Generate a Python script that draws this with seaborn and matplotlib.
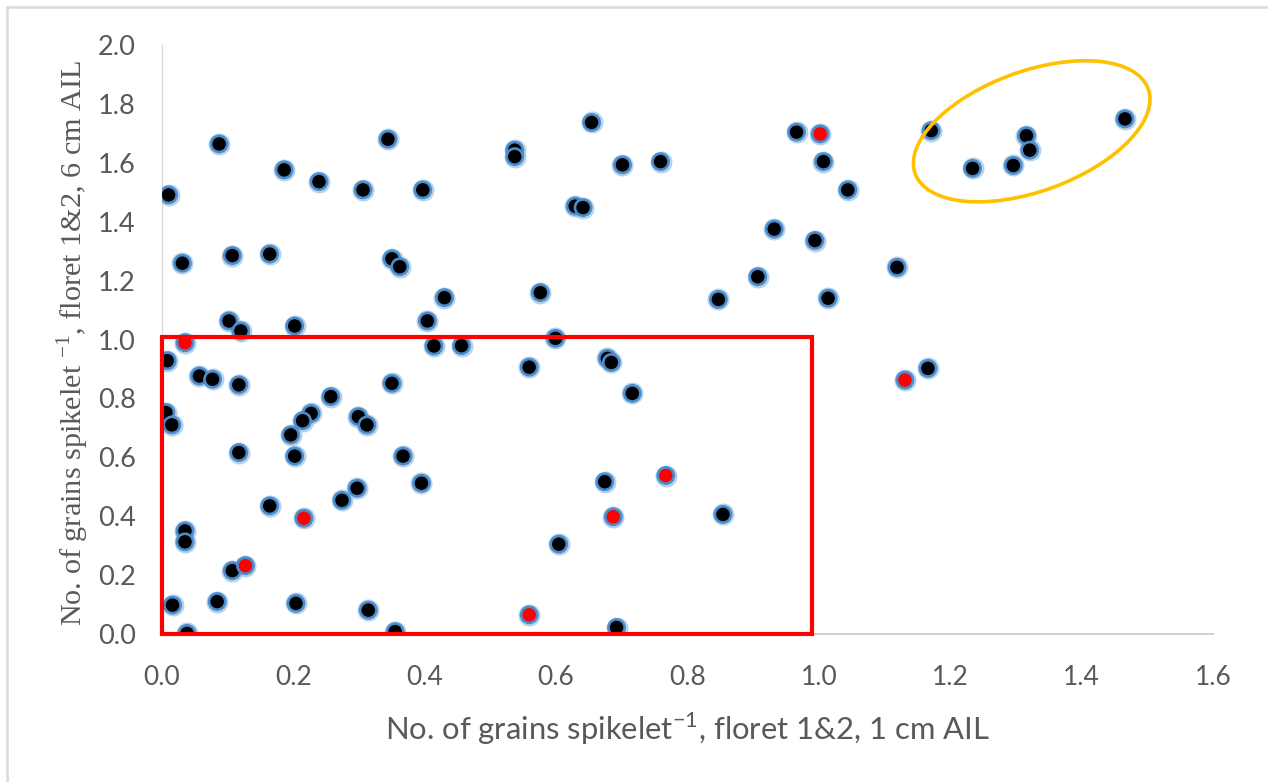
import numpy as np
import pandas as pd
import seaborn as sns
import matplotlib
matplotlib.use("Agg")
import matplotlib.pyplot as plt
from matplotlib.patches import Rectangle, Ellipse
from matplotlib.lines import Line2D
import matplotlib.transforms as mtransforms

# Grains per spikelet (florets 1&2) at 1 cm AIL (x) and 6 cm AIL (y)
x_black = [0.010, 0.087, 0.031, 0.107, 0.164, 0.186, 0.239, 0.306, 0.344, 0.350,
           0.362, 0.397, 0.430, 0.102, 0.120, 0.202, 0.404, 0.008, 0.057, 0.077,
           0.117, 0.414, 0.456, 0.350, 0.257, 0.227, 0.214, 0.196, 0.202, 0.117,
           0.299, 0.312, 0.367, 0.395, 0.297, 0.274, 0.164, 0.006, 0.015, 0.035,
           0.035, 0.107, 0.016, 0.084, 0.204, 0.314, 0.355, 0.038, 0.654, 0.537,
           0.537, 0.701, 0.759, 0.966, 1.007, 1.044, 0.629, 0.641, 0.932, 0.994,
           0.907, 0.847, 1.014, 0.576, 0.599, 0.559, 0.678, 0.684, 0.716, 0.674,
           0.854, 0.604, 0.692, 1.171, 1.234, 1.296, 1.316, 1.321, 1.466, 1.119,
           1.166]
y_black = [1.491, 1.664, 1.259, 1.285, 1.290, 1.576, 1.536, 1.508, 1.680, 1.274,
           1.247, 1.508, 1.142, 1.063, 1.029, 1.046, 1.063, 0.928, 0.876, 0.865,
           0.846, 0.978, 0.979, 0.851, 0.806, 0.749, 0.724, 0.676, 0.604, 0.616,
           0.738, 0.710, 0.604, 0.512, 0.495, 0.454, 0.435, 0.752, 0.710, 0.350,
           0.313, 0.215, 0.098, 0.110, 0.104, 0.081, 0.008, 0.002, 1.737, 1.643,
           1.621, 1.593, 1.604, 1.704, 1.604, 1.508, 1.453, 1.448, 1.375, 1.336,
           1.213, 1.136, 1.140, 1.159, 1.004, 0.906, 0.936, 0.922, 0.817, 0.517,
           0.406, 0.305, 0.022, 1.709, 1.581, 1.591, 1.692, 1.643, 1.749, 1.245,
           0.902]
x_red = [0.035, 0.216, 0.127, 1.002, 0.767, 0.687, 0.559, 1.131]
y_red = [0.989, 0.393, 0.232, 1.698, 0.538, 0.398, 0.065, 0.862]

x_ticks = [0.0, 0.2, 0.4, 0.6, 0.8, 1.0, 1.2, 1.4, 1.6]
y_ticks = [0.0, 0.2, 0.4, 0.6, 0.8, 1.0, 1.2, 1.4, 1.6, 1.8, 2.0]

# Highlighted regions
box_x1, box_y1 = 0.99, 1.01
cluster_center = (1.324, 1.707)

x_label = r"No. of grains spikelet$^{\mathdefault{-1}}$, floret 1&2, 1 cm AIL"
y_label = r"No. of grains spikelet $^{\mathdefault{-1}}$, floret 1&2, 6 cm AIL"

df = pd.DataFrame({
    "x": x_black + x_red,
    "y": y_black + y_red,
    "group": ["black"] * len(x_black) + ["red"] * len(x_red),
})

sns.set_theme(style="white")
plt.rcParams["font.family"] = ["Lato", "DejaVu Sans"]

fig = plt.figure(figsize=(12.68, 7.82), dpi=100)
ax = fig.add_axes([162 / 1268, 148 / 782, 1051 / 1268, 589 / 782])

palette = {"black": "#000000", "red": "#ff0000"}

# soft halo under each marker
sns.scatterplot(data=df, x="x", y="y", ax=ax, color="#9dc3e6", s=250,
                linewidth=0, alpha=0.75, legend=False, zorder=2)
sns.scatterplot(data=df, x="x", y="y", hue="group", palette=palette, ax=ax,
                s=135, edgecolor="#4a8ccc", linewidth=1.9, legend=False,
                zorder=3)

ax.set_xlim(x_ticks[0], x_ticks[-1])
ax.set_ylim(y_ticks[0], y_ticks[-1])
ax.set_xticks(x_ticks)
ax.set_yticks(y_ticks)
ax.set_xticklabels([f"{v:.1f}" for v in x_ticks])
ax.set_yticklabels([f"{v:.1f}" for v in y_ticks])
ax.tick_params(axis="x", length=0, pad=22, labelsize=19, labelcolor="#595959")
ax.tick_params(axis="y", length=0, pad=19, labelsize=19.5, labelcolor="#595959")

for side in ["top", "right"]:
    ax.spines[side].set_visible(False)
ax.spines["bottom"].set_color("#d0d0d0")
ax.spines["bottom"].set_linewidth(1.4)
ax.spines["left"].set_color("#d9d9d9")
ax.spines["left"].set_linewidth(1.0)

ax.set_xlabel(x_label, fontsize=22.3, color="#595959", va="center")
ax.xaxis.set_label_coords(0.5, -0.161)
ax.set_ylabel(y_label, fontsize=21.8, color="#595959",
              family=["Liberation Serif", "DejaVu Serif"])
ax.yaxis.set_label_coords(-0.068, 0.495)

# red box around the low-yield region
ax.add_patch(Rectangle((0, 0), box_x1, box_y1, fill=False, edgecolor="#ff0000",
                       linewidth=3.0, zorder=4, clip_on=False))

# gold ellipse around the high cluster
ell_trans = fig.dpi_scale_trans + mtransforms.ScaledTranslation(
    cluster_center[0], cluster_center[1], ax.transData)
ax.add_patch(Ellipse((0, 0), 2.48, 1.20, angle=20, fill=False,
                     edgecolor="#ffc000", linewidth=2.6, transform=ell_trans,
                     zorder=4, clip_on=False))

# frame edges
fig.add_artist(Line2D([7 / 1268, 7 / 1268], [0, 1 - 7 / 782],
                      transform=fig.transFigure, color="#d9d9d9", linewidth=1.8))
fig.add_artist(Line2D([7 / 1268, 1], [1 - 7 / 782, 1 - 7 / 782],
                      transform=fig.transFigure, color="#d9d9d9", linewidth=1.8))

fig.savefig("out.png", dpi=100, facecolor="white")
